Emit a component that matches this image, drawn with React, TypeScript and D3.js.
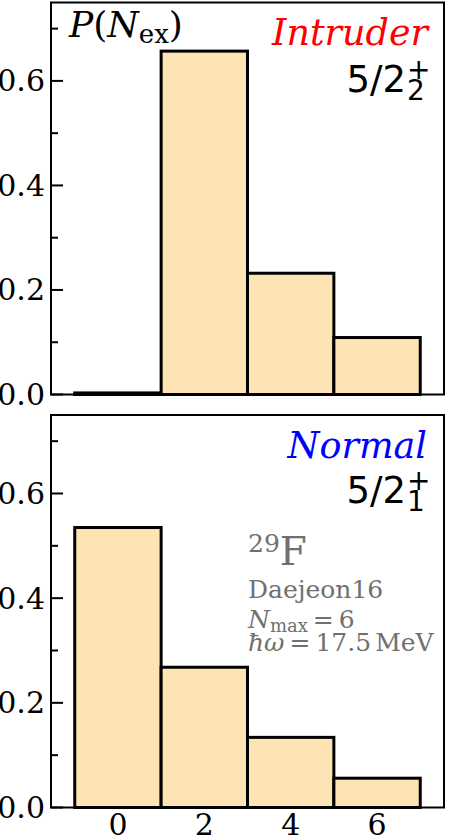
import React from 'react';
import * as d3 from 'd3';

const width = 449;
const height = 838;
const serif = 'DejaVu Serif';
const sans = 'DejaVu Sans';
const fill = '#fee3b4';
const gray = '#707070';

// N_ex values (bar centres) and probabilities
const nex = [0, 2, 4, 6];
const intruder = [0.003, 0.657, 0.232, 0.109];
const normal = [0.535, 0.268, 0.134, 0.056];

const yMajor = [0, 0.2, 0.4, 0.6];
const yMinor = [0.1, 0.3, 0.5, 0.7];
const xTicks = [0, 2, 4, 6];

const left = 51;
const right = 444;

const xScale = d3.scaleLinear().domain([-1.55, 7.55]).range([left, right]);

function Panel({ top, bottom, values, showX, children }) {
  const yScale = d3.scaleLinear().domain([0, 0.75]).range([bottom, top]);
  return (
    <g>
      {values.map((v, i) => (
        <rect
          key={i}
          x={xScale(nex[i] - 1)}
          y={yScale(v)}
          width={xScale(nex[i] + 1) - xScale(nex[i] - 1)}
          height={yScale(0) - yScale(v)}
          fill={fill}
          stroke="#000"
          strokeWidth={3}
        />
      ))}
      {yMinor.map(t => (
        <line key={'m' + t} x1={left} x2={left + 7} y1={yScale(t)} y2={yScale(t)} stroke="#000" strokeWidth={2} />
      ))}
      {yMajor.map(t => (
        <g key={'M' + t}>
          <line x1={left} x2={left + 12} y1={yScale(t)} y2={yScale(t)} stroke="#000" strokeWidth={2} />
          <text x={left - 6} y={yScale(t)} textAnchor="end" dominantBaseline="central" fontFamily={serif} fontSize={30}>
            {d3.format('.1f')(t)}
          </text>
        </g>
      ))}
      {showX &&
        xTicks.map(t => (
          <text key={'x' + t} x={xScale(t)} y={bottom + 27} textAnchor="middle" fontFamily={serif} fontSize={30}>
            {t}
          </text>
        ))}
      <rect x={left} y={top} width={right - left} height={bottom - top} fill="none" stroke="#000" strokeWidth={2} />
      {children}
    </g>
  );
}

function Spin({ x, y, sub }) {
  return (
    <g fontFamily={sans}>
      <text x={x} y={y} textAnchor="end" fontSize={37}>5/2</text>
      <text x={x + 1} y={y - 13} fontSize={28}>+</text>
      <text x={x + 1} y={y + 8} fontSize={28}>{sub}</text>
    </g>
  );
}

export default function App() {
  return (
    <svg width={width} height={height} style={{ position: 'absolute', left: 0, top: 0 }}>
      <rect width={width} height={height} fill="#fff" />
      <Panel top={2.5} bottom={394.5} values={intruder} showX={false}>
        <text x={69} y={37} fontFamily={serif} fontSize={36}>
          <tspan fontStyle="italic">P</tspan>(<tspan fontStyle="italic">N</tspan>
          <tspan fontSize={26} dy={6}>ex</tspan>
          <tspan dy={-6}>)</tspan>
        </text>
        <text x={428} y={45} textAnchor="end" fontFamily={serif} fontStyle="italic" fontSize={36.5} fill="#ff0000">
          Intruder
        </text>
        <Spin x={406} y={92} sub="2" />
      </Panel>
      <Panel top={415} bottom={807.5} values={normal} showX={true}>
        <text x={427} y={458} textAnchor="end" fontFamily={serif} fontStyle="italic" fontSize={36.5} fill="#0000ff">
          Normal
        </text>
        <Spin x={406} y={503} sub="1" />
        <g fontFamily={serif} fill={gray}>
          <text x={248} y={565}>
            <tspan fontSize={25} dy={-13}>29</tspan>
            <tspan fontSize={39} dy={13}>F</tspan>
          </text>
          <text x={248} y={598} fontSize={25}>Daejeon16</text>
          <text x={248} y={628} fontSize={25}>
            <tspan fontStyle="italic">N</tspan>
            <tspan fontSize={18} dy={4}>max</tspan>
            <tspan dy={-4} dx={5}>=</tspan>
            <tspan dx={5}>6</tspan>
          </text>
          <text x={248} y={651} fontSize={25}>
            <tspan fontStyle="italic">ħω</tspan>
            <tspan dx={5}>=</tspan>
            <tspan dx={5}>17.5</tspan>
            <tspan dx={4}>MeV</tspan>
          </text>
        </g>
      </Panel>
    </svg>
  );
}
